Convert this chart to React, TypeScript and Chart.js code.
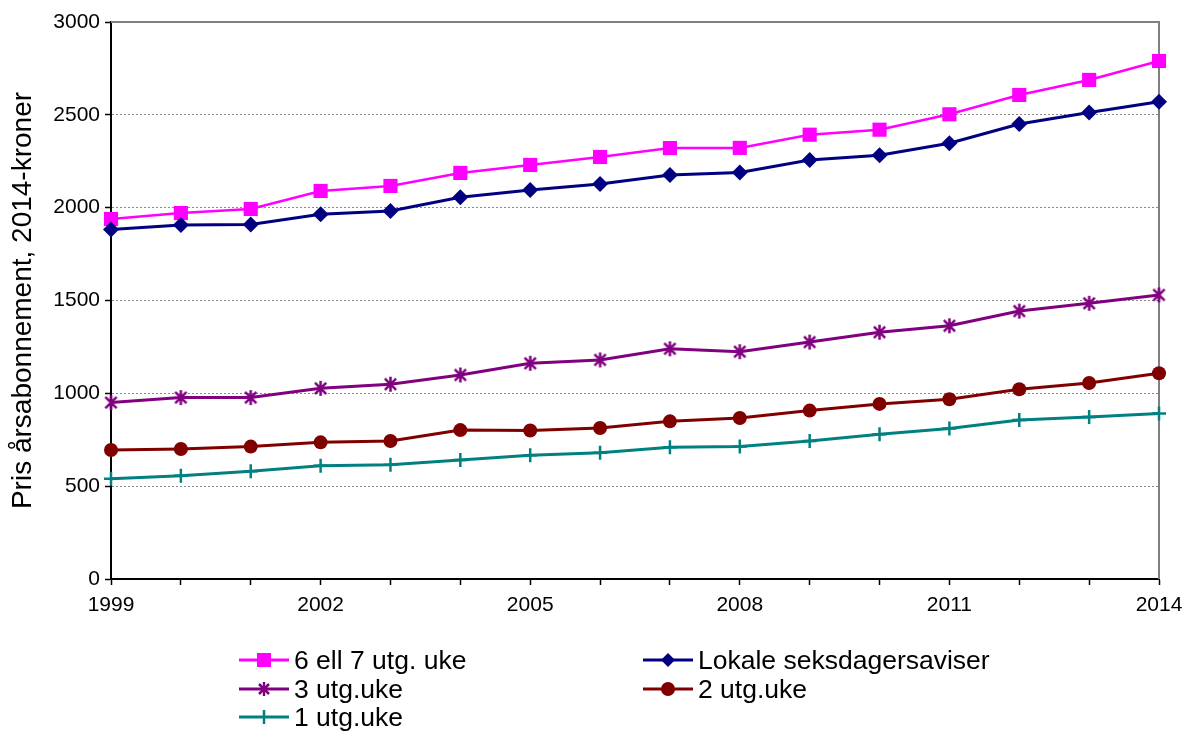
import React, { useEffect, useRef } from 'react';
import { Chart, registerables } from 'chart.js';

Chart.register(...registerables);

const years = ['1999', '2000', '2001', '2002', '2003', '2004', '2005', '2006', '2007', '2008', '2009', '2010', '2011', '2012', '2013', '2014'];
const xTickLabels = ['1999', '', '', '2002', '', '', '2005', '', '', '2008', '', '', '2011', '', '', '2014'];

const seriesNames = ['6 ell 7 utg. uke', 'Lokale seksdagersaviser', '3 utg.uke', '2 utg.uke', '1 utg.uke'];
const seksSju = [1939, 1971, 1993, 2090, 2117, 2187, 2230, 2273, 2321, 2322, 2393, 2420, 2503, 2607, 2688, 2790];
const lokale = [1883, 1907, 1910, 1964, 1982, 2056, 2095, 2127, 2176, 2190, 2257, 2282, 2347, 2451, 2512, 2571];
const tre = [950, 977, 977, 1027, 1049, 1099, 1162, 1180, 1240, 1224, 1276, 1329, 1364, 1443, 1485, 1530];
const to = [695, 700, 713, 736, 743, 802, 800, 813, 849, 867, 907, 943, 968, 1022, 1056, 1108];
const en = [540, 556, 580, 610, 616, 641, 666, 680, 709, 713, 743, 779, 810, 856, 873, 892];

const yTitle = 'Pris årsabonnement, 2014-kroner';

const FONT = "'Liberation Sans', Arial, sans-serif";
const colors = ['#FF00FF', '#000080', '#800080', '#800000', '#008080'];

function makeStar(color: string, size: number) {
  const c = document.createElement('canvas');
  c.width = size;
  c.height = size;
  const ctx = c.getContext('2d')!;
  ctx.strokeStyle = color;
  ctx.lineWidth = 2.5;
  const m = size / 2;
  const r = size / 2 - 1;
  const d = r * 0.75;
  ctx.beginPath();
  ctx.moveTo(m - d, m - d);
  ctx.lineTo(m + d, m + d);
  ctx.moveTo(m + d, m - d);
  ctx.lineTo(m - d, m + d);
  ctx.moveTo(m, m - r);
  ctx.lineTo(m, m + r);
  ctx.stroke();
  return c;
}

const framePlugin = {
  id: 'frame',
  beforeDatasetsDraw(chart: any) {
    const { ctx, chartArea: a } = chart;
    ctx.save();
    ctx.strokeStyle = '#808080';
    ctx.lineWidth = 2;
    ctx.beginPath();
    ctx.moveTo(a.left, a.top);
    ctx.lineTo(a.right, a.top);
    ctx.lineTo(a.right, a.bottom);
    ctx.stroke();
    ctx.restore();
  },
};

function LegendMarker({ idx }: { idx: number }) {
  const c = colors[idx];
  let marker: any = null;
  if (idx === 0) marker = <rect x={25 - 7} y={10 - 7} width={14} height={14} fill={c} />;
  if (idx === 1) marker = <polygon points="25,3 32,10 25,17 18,10" fill={c} />;
  if (idx === 2)
    marker = (
      <g stroke={c} strokeWidth={2.5}>
        <line x1={20} y1={5} x2={30} y2={15} />
        <line x1={30} y1={5} x2={20} y2={15} />
        <line x1={25} y1={3} x2={25} y2={17} />
      </g>
    );
  if (idx === 3) marker = <circle cx={25} cy={10} r={7} fill={c} />;
  if (idx === 4)
    marker = (
      <g stroke={c} strokeWidth={2.5}>
        <line x1={25} y1={3} x2={25} y2={17} />
      </g>
    );
  return (
    <svg width={50} height={20} style={{ display: 'block' }}>
      <line x1={0} y1={10} x2={50} y2={10} stroke={c} strokeWidth={3} />
      {marker}
    </svg>
  );
}

const legendPos = [
  { left: 239, top: 660 },
  { left: 643, top: 660 },
  { left: 239, top: 689 },
  { left: 643, top: 689 },
  { left: 239, top: 717 },
];
const legendOrder = [0, 1, 2, 3, 4];

export default function App() {
  const ref = useRef<HTMLCanvasElement>(null);

  useEffect(() => {
    const star = makeStar(colors[2], 17);
    const mk = (label: string, data: number[], color: string, extra: any) => ({
      label,
      data,
      borderColor: color,
      backgroundColor: color,
      pointBackgroundColor: color,
      pointBorderColor: color,
      borderWidth: 3,
      tension: 0,
      ...extra,
    });
    const chart = new Chart(ref.current!, {
      type: 'line',
      data: {
        labels: years,
        datasets: [
          mk(seriesNames[4], en, colors[4], { pointStyle: 'cross', pointRadius: 7, pointBorderWidth: 2.5 }),
          mk(seriesNames[3], to, colors[3], { pointStyle: 'circle', pointRadius: 7, pointBorderWidth: 0 }),
          mk(seriesNames[2], tre, colors[2], { pointStyle: star, pointRadius: 8 }),
          mk(seriesNames[1], lokale, colors[1], { pointStyle: 'rectRot', pointRadius: 8, pointBorderWidth: 0 }),
          mk(seriesNames[0], seksSju, colors[0], { pointStyle: 'rect', pointRadius: 10, pointBorderWidth: 0, borderWidth: 2.5 }),
        ],
      },
      options: {
        animation: false,
        responsive: false,
        devicePixelRatio: 1,
        layout: { padding: { top: 22, right: 32, bottom: 112, left: 0 } },
        plugins: {
          legend: { display: false },
          tooltip: { enabled: false },
        },
        scales: {
          x: {
            type: 'category',
            offset: false,
            grid: {
              drawOnChartArea: false,
              drawTicks: true,
              tickLength: 6,
              tickColor: '#000',
              tickWidth: 1.5,
              offset: false,
            },
            border: { display: true, color: '#000', width: 2 },
            ticks: {
              autoSkip: false,
              maxRotation: 0,
              minRotation: 0,
              padding: 8,
              color: '#000',
              font: { family: FONT, size: 21 },
              callback: (_v: any, i: number) => xTickLabels[i],
            },
            afterFit: (s: any) => {
              s.height = 40;
            },
          },
          y: {
            min: 0,
            max: 3000,
            grid: {
              color: (c: any) => (c.tick && (c.tick.value === 0 || c.tick.value === 3000) ? 'rgba(0,0,0,0)' : '#8a8a8a'),
              lineWidth: 1,
              drawTicks: true,
              tickLength: 6,
              tickColor: '#000',
              tickWidth: 1.5,
            },
            border: { display: true, color: '#000', width: 2, dash: [2, 2] },
            ticks: {
              stepSize: 500,
              padding: 5,
              color: '#000',
              font: { family: FONT, size: 21 },
              callback: (v: any) => String(v),
            },
            title: {
              display: true,
              text: yTitle,
              color: '#000',
              font: { family: FONT, size: 28 },
              padding: { top: 6, bottom: 0 },
            },
            afterFit: (s: any) => {
              s.width = 111;
            },
          },
        },
      },
      plugins: [framePlugin],
    } as any);
    return () => chart.destroy();
  }, []);

  return (
    <div style={{ position: 'absolute', left: 0, top: 0, width: 1191, height: 731, background: '#fff', overflow: 'hidden' }}>
      <canvas ref={ref} width={1191} height={731} style={{ display: 'block' }} />
      {legendOrder.map((idx) => (
        <div
          key={idx}
          style={{
            position: 'absolute',
            left: legendPos[idx].left,
            top: legendPos[idx].top - 15,
            height: 30,
            display: 'flex',
            alignItems: 'center',
            fontFamily: FONT,
            fontSize: 26.5,
            color: '#000',
            whiteSpace: 'nowrap',
          }}
        >
          <LegendMarker idx={idx} />
          <span style={{ marginLeft: 5 }}>{seriesNames[idx]}</span>
        </div>
      ))}
    </div>
  );
}
